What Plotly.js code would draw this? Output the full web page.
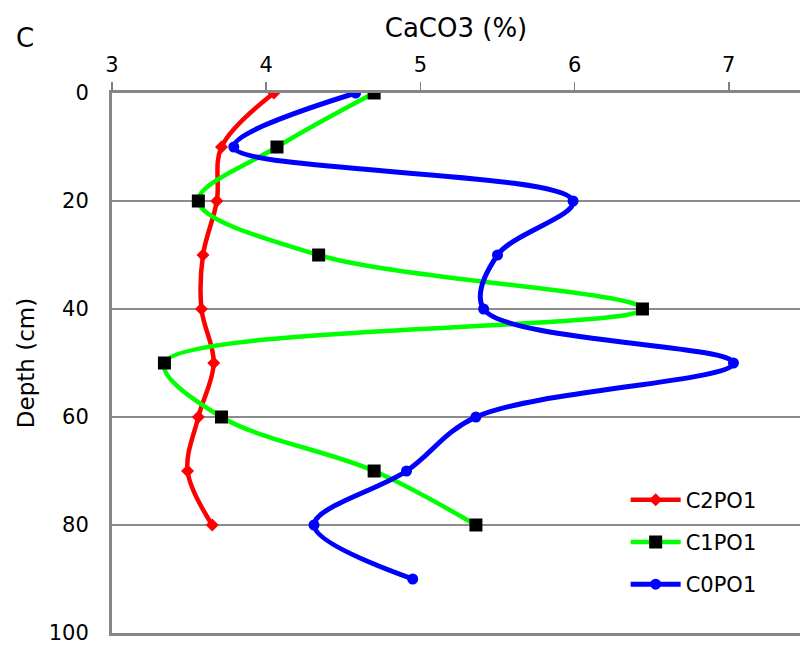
<!DOCTYPE html>
<html>
<head>
<meta charset="utf-8">
<script src="https://cdn.plot.ly/plotly-3.0.1.min.js"></script>
<style>html,body{margin:0;padding:0;background:#fff;}#chart{width:800px;height:647px;}</style>
</head>
<body>
<div id="chart"></div>
<script>
const depth = [0, 10, 20, 30, 40, 50, 60, 70, 80];
const depthC0 = [0, 10, 20, 30, 40, 50, 60, 70, 80, 90];
const c2po1 = [4.05, 3.71, 3.68, 3.59, 3.58, 3.66, 3.56, 3.49, 3.65];
const c1po1 = [4.70, 4.07, 3.56, 4.34, 6.44, 3.34, 3.71, 4.70, 5.36];
const c0po1 = [4.58, 3.79, 5.99, 5.50, 5.41, 7.03, 5.36, 4.91, 4.31, 4.95];
const seriesNames = ['C2PO1', 'C1PO1', 'C0PO1'];
const xTicks = [3, 4, 5, 6, 7];
const yTicks = [0, 20, 40, 60, 80, 100];

const FONT = 'DejaVu Sans, Verdana, sans-serif';

const traces = [
  {x: c2po1, y: depth, name: seriesNames[0], legendgroup: 'a', mode: 'lines+markers',
   line: {color: '#ff0000', width: 4.5, shape: 'spline', smoothing: 1},
   marker: {symbol: 'diamond', size: 10, color: '#ff0000'}},
  {x: c1po1, y: depth, name: seriesNames[1], legendgroup: 'b', mode: 'lines+markers',
   line: {color: '#00ff00', width: 4.5, shape: 'spline', smoothing: 1},
   marker: {symbol: 'square', size: 13, color: '#000000'}},
  {x: c0po1, y: depthC0, name: seriesNames[2], legendgroup: 'c', mode: 'lines+markers',
   line: {color: '#0000ff', width: 5, shape: 'spline', smoothing: 1},
   marker: {symbol: 'circle', size: 11, color: '#0000ff'}}
];

const layout = {
  width: 800, height: 647,
  margin: {l: 112, r: 0, t: 93, b: 14},
  paper_bgcolor: '#ffffff', plot_bgcolor: '#ffffff',
  font: {family: FONT, size: 21, color: '#000000'},
  showlegend: true,
  xaxis: {
    side: 'top', range: [3, 3 + 688/154.2],
    tickvals: xTicks, ticktext: xTicks.map(String),
    ticks: 'outside', ticklen: 8, tickwidth: 1.5, tickcolor: '#808080',
    showgrid: false, zeroline: false,
    showline: true, linecolor: '#868686', linewidth: 3, mirror: true,
    tickfont: {family: FONT, size: 21},
    ticklabelstandoff: 2,
    title: {text: 'CaCO3 (%)', font: {family: FONT, size: 26}, standoff: 8}
  },
  yaxis: {
    range: [100, 0],
    tickvals: yTicks, ticktext: yTicks.map(String),
    ticks: '', showgrid: true, gridcolor: '#8c8c8c', gridwidth: 1.5,
    zeroline: false,
    showline: true, linecolor: '#868686', linewidth: 3, mirror: false,
    tickfont: {family: FONT, size: 21},
    ticklabelstandoff: 16,
    title: {text: 'Depth (cm)', font: {family: FONT, size: 23}, standoff: 8}
  },
  legend: {
    x: 0.7466, y: 0.2843, xanchor: 'left', yanchor: 'top',
    bgcolor: 'rgba(255,255,255,0)', borderwidth: 0,
    font: {family: FONT, size: 21},
    itemwidth: 50, tracegroupgap: 12
  },
  annotations: [
    {text: 'C', xref: 'paper', yref: 'paper', x: -0.126, y: 1.102,
     xanchor: 'center', yanchor: 'middle', showarrow: false,
     font: {family: FONT, size: 26, color: '#000000'}}
  ]
};

Plotly.newPlot('chart', traces, layout, {displayModeBar: false, staticPlot: true});
</script>
</body>
</html>
